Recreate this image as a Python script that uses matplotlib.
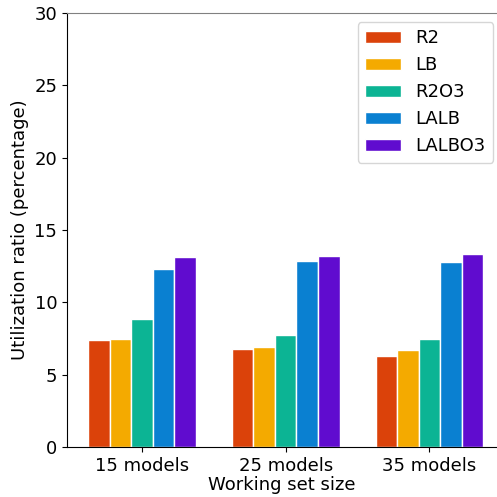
import matplotlib.pyplot as plt
import numpy as np

groups = ["15 models", "25 models", "35 models"]
series = ["R2", "LB", "R2O3", "LALB", "LALBO3"]
r2 = [7.38, 6.78, 6.30]
lb = [7.45, 6.90, 6.69]
r2o3 = [8.87, 7.75, 7.45]
lalb = [12.32, 12.87, 12.76]
lalbo3 = [13.15, 13.20, 13.31]
colors = ["#DB420A", "#F4AA00", "#0CB494", "#0A80D1", "#600CCF"]

values = [r2, lb, r2o3, lalb, lalbo3]
x = np.arange(len(groups))
width = 0.15

fig = plt.figure(figsize=(4.97, 4.97), dpi=100)
ax = fig.add_axes([0.135, 0.1006, 0.865, 0.8734])
for i, (name, vals) in enumerate(zip(series, values)):
    ax.bar(x + (i - 2) * width, vals, width, color=colors[i], edgecolor="white",
           linewidth=1, label=name)

ax.set_xlim(-0.52, 2.47)
ax.set_ylim(0, 30)
ax.set_xticks(x)
ax.set_xticklabels(groups, fontsize=13)
ax.tick_params(axis="y", labelsize=13)
ax.set_xlabel("Working set size", fontsize=13, labelpad=1)
ax.set_ylabel("Utilization ratio (percentage)", fontsize=13)
ax.spines["right"].set_visible(False)
ax.spines["top"].set_color("#808080")
ax.legend(loc="upper right", bbox_to_anchor=(1.012, 1.0), fontsize=13,
          handlelength=2.0)
fig.savefig("out.png", dpi=100)
